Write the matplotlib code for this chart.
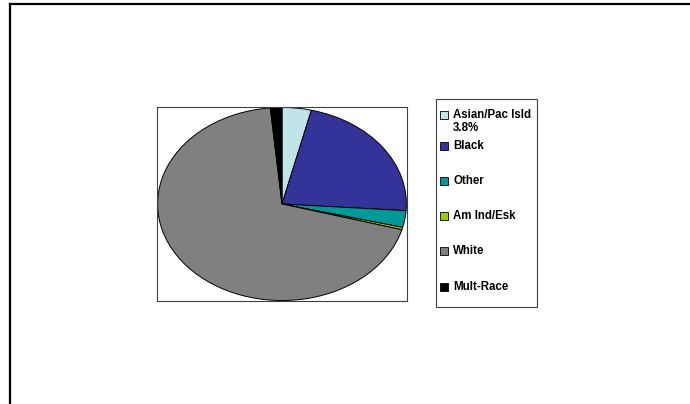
import matplotlib
matplotlib.use("Agg")
import matplotlib.pyplot as plt
from matplotlib.patches import Rectangle
from matplotlib.lines import Line2D

plt.rcParams['font.family'] = ['Liberation Sans', 'DejaVu Sans']

# données
categories = ['Asian/Pac Isld', 'Black', 'Other', 'Am Ind/Esk', 'White', 'Mult-Race']
valeurs = [3.8, 22.3, 2.8, 0.4, 69.2, 1.5]
couleurs = ['#C0E4E8', '#333399', '#009999', '#99CC00', '#808080', '#000000']
etiquette_asian = '3.8%'

W, H = 690, 404
fig = plt.figure(figsize=(W / 100, H / 100), dpi=100)

def fx(px):
    return px / W

def fy(py):
    return 1 - py / H

# cadre extérieur (haut et gauche)
fig.add_artist(Line2D([fx(10), 1], [fy(4), fy(4)], color='black', lw=1.6))
fig.add_artist(Line2D([fx(10), fx(10)], [fy(4), 0], color='black', lw=1.6))

# camembert
ax = fig.add_axes([fx(157), fy(301), fx(407) - fx(157), fy(107) - fy(301)])
ax.pie(valeurs, colors=couleurs, startangle=90, counterclock=False,
       wedgeprops=dict(edgecolor='black', linewidth=0.7))
ax.set_aspect('auto')
ax.set_xlim(-1.005, 1.005)
ax.set_ylim(-1.005, 1.005)
ax.set_frame_on(True)
ax.set_xticks([])
ax.set_yticks([])
for s in ax.spines.values():
    s.set_visible(True)
    s.set_color('#404040')
    s.set_linewidth(0.8)

# légende
fig.add_artist(Rectangle((fx(436), fy(307)), fx(537) - fx(436), fy(99) - fy(307),
                         transform=fig.transFigure, facecolor='white',
                         edgecolor='#404040', lw=0.8))
lignes_y = [115, 146, 181, 216, 251, 287]
for cat, col, yy in zip(categories, couleurs, lignes_y):
    fig.add_artist(Rectangle((fx(440), fy(yy + 4)), fx(448) - fx(440), fy(yy - 4) - fy(yy + 4),
                             transform=fig.transFigure, facecolor=col,
                             edgecolor='black', lw=0.6))
    fig.text(fx(453), fy(yy), cat, fontsize=8.3, fontweight='bold', va='center', ha='left')
fig.text(fx(453), fy(128), etiquette_asian, fontsize=8.3, fontweight='bold', va='center', ha='left')

fig.savefig('out.png', dpi=100)
